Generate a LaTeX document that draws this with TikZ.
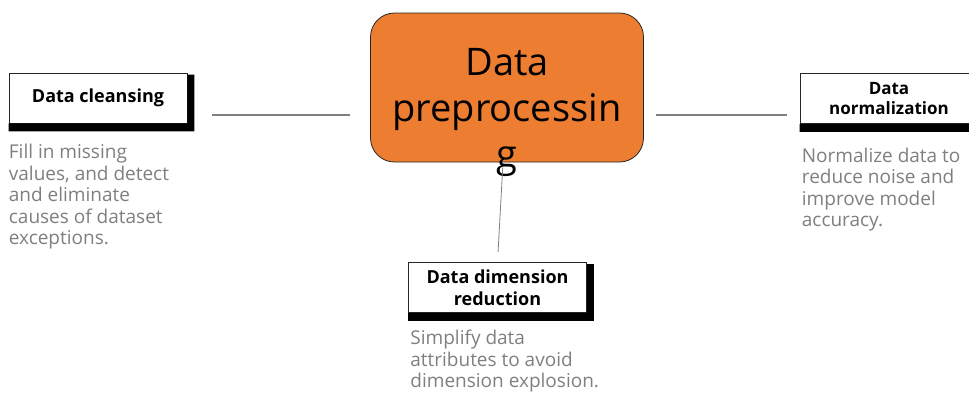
\documentclass[tikz,border=0pt]{standalone}
\usepackage{fontspec}
\setmainfont{Open Sans}
\usetikzlibrary{positioning,calc}

\definecolor{prepOrange}{HTML}{ED7D31}
\definecolor{descGray}{HTML}{7F7F7F}

\tikzstyle{hub} = [rectangle, rounded corners=24pt, minimum width=273pt, minimum height=149pt, draw=black!85, line width=0.8pt, fill=prepOrange]
\tikzstyle{topic} = [rectangle, minimum width=178pt, minimum height=50pt, text centered, align=center, draw=black!85, line width=0.6pt, fill=white, font=\bfseries]
\tikzstyle{desc} = [anchor=north west, align=left, inner sep=0pt, text=descGray, font=\fontsize{19}{21.5}\selectfont]
\tikzstyle{link} = [draw=black!50, line width=1.1pt]

\newcommand{\boxshade}[1]{%
  \fill[black] ([yshift=-2pt]#1.north east) -- ([shift={(7pt,-2pt)}]#1.north east)
    -- ([shift={(7pt,-8pt)}]#1.south east) -- ([yshift=-8pt]#1.south west)
    -- (#1.south west) -- (#1.south east) -- cycle;}

\begin{document}
\begin{tikzpicture}[x=1pt, y=-1pt]
	\useasboundingbox (0,0) rectangle (969,392);
	% Place nodes
	\node [hub] (prep) at (507,87.5) {};
	\node [align=center, inner sep=0pt, font=\fontsize{38}{46}\selectfont] (preptext) at (507,112) {Data\\preprocessin\\g};
	\node [topic, font=\bfseries\fontsize{18}{20}\selectfont] (clean) at (98,98) {Data cleansing};
	\node [topic, font=\bfseries\fontsize{17}{20}\selectfont] (norm) at (889,98.5) {Data\\normalization};
	\node [topic, font=\bfseries\fontsize{18}{22}\selectfont] (redu) at (497.5,287.5) {Data dimension\\reduction};
	\boxshade{clean}
	\boxshade{norm}
	\boxshade{redu}
	\node [desc, below=21pt of clean.south west, anchor=north west] (cleandesc) {Fill in missing\\values, and detect\\and eliminate\\causes of dataset\\exceptions.};
	\node [desc, below=24pt of norm.south west, anchor=north west, xshift=2pt] (normdesc) {Normalize data to\\reduce noise and\\improve model\\accuracy.};
	\node [desc, below=17pt of redu.south west, anchor=north west, xshift=2pt] (redudesc) {Simplify data\\attributes to avoid\\dimension explosion.};
	% Draw edges
	\draw [link, shorten <=25pt, shorten >=20pt] ([yshift=-17pt]clean.east) -- ([yshift=-17pt]clean.east -| prep.west);
	\draw [link, shorten <=12pt, shorten >=13pt] ([yshift=-27.5pt]prep.east) -- ([yshift=-27.5pt]prep.east -| norm.west);
	\draw [link, line width=0.8pt, shorten <=5pt, shorten >=10pt] ([xshift=-4pt]prep.south) -- (redu.north);
\end{tikzpicture}
\end{document}
